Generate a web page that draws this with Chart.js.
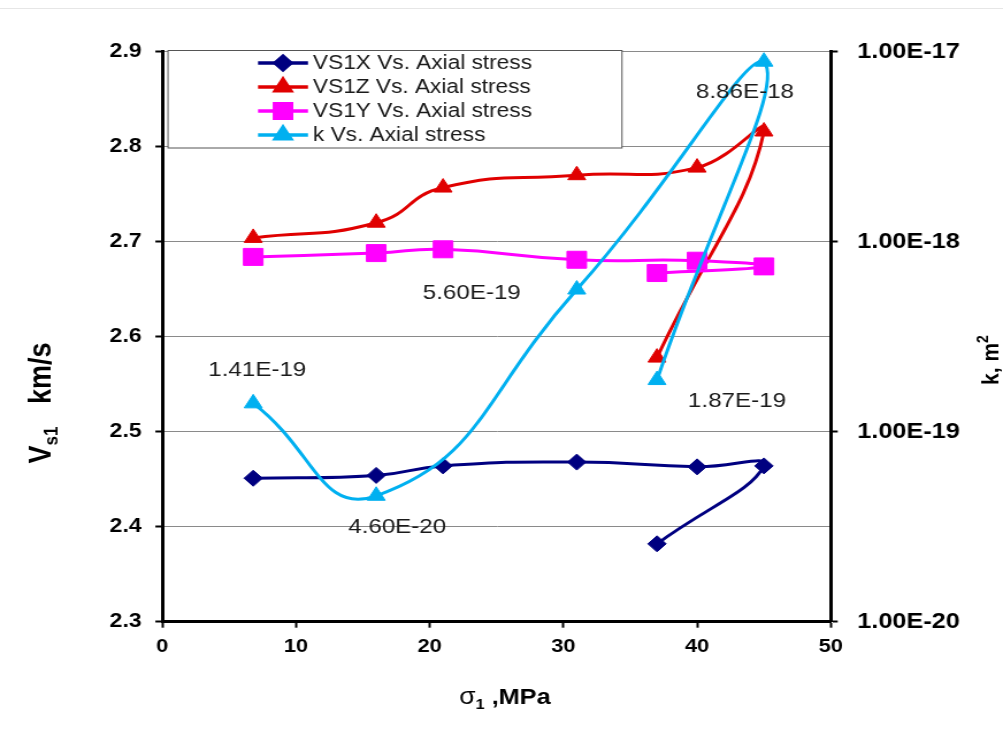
<!DOCTYPE html>
<html>
<head>
<meta charset="utf-8">
<title>Shear-wave velocity and permeability vs. axial stress</title>
<script src="https://cdn.jsdelivr.net/npm/chart.js@4.4.1/dist/chart.umd.min.js"></script>
<style>
  html, body { margin: 0; padding: 0; background: #fff; overflow: hidden; }
  /* the plot is drawn 872 px wide and widened to the 1003 px page */
  #wrap { width: 872px; height: 755px; transform: scaleX(1.150229); transform-origin: 0 0; }
  canvas { display: block; }
</style>
</head>
<body>
<div id="wrap"><canvas id="chart" width="872" height="755"></canvas></div>
<script>
// ---- data -------------------------------------------------------------
const stress = [6.8, 16, 21, 31, 40, 45, 37];            // sigma1, MPa (loading then unloading)
const vs1x   = [2.451, 2.454, 2.464, 2.468, 2.463, 2.464, 2.382];
const vs1z   = [2.704, 2.720, 2.757, 2.770, 2.778, 2.816, 2.578];
const vs1y   = [2.684, 2.688, 2.692, 2.681, 2.680, 2.674, 2.667];
const kStress = [6.8, 16, 31, 45, 37];
const kValues = [1.41e-19, 4.60e-20, 5.60e-19, 8.86e-18, 1.87e-19]; // m^2

const seriesNames = ['VS1X Vs. Axial stress', 'VS1Z Vs. Axial stress',
                     'VS1Y Vs. Axial stress', 'k Vs. Axial stress'];

const xTicks = [0, 10, 20, 30, 40, 50];
const xTickLabels = ['0', '10', '20', '30', '40', '50'];
const vTicks = [2.3, 2.4, 2.5, 2.6, 2.7, 2.8, 2.9];
const vTickLabels = ['2.3', '2.4', '2.5', '2.6', '2.7', '2.8', '2.9'];
const kTicks = [1e-20, 1e-19, 1e-18, 1e-17];
const kTickLabels = ['1.00E-20', '1.00E-19', '1.00E-18', '1.00E-17'];

// ---- look -------------------------------------------------------------
const SX = 1003 / 872;                       // horizontal widening of the page
const FONT = '"Liberation Sans", Arial, Helvetica, sans-serif';
const colors = ['#000080', '#e00000', '#ff00ff', '#00b0f0'];
const styles = [
  { pointStyle: 'rectRot',  radius: 8 },
  { pointStyle: 'triangle', radius: 9 },
  { pointStyle: 'rect',     radius: 12 },
  { pointStyle: 'triangle', radius: 9 }
];
// where each k value label sits relative to its point (page px)
const kLabelOffsets = [[4, -33], [21, 31], [-105, 4], [-19, 31], [80, 21]];

const pairs = (xs, ys) => xs.map((x, i) => ({ x: x, y: ys[i] }));

function series(i, data, axis, order) {
  return {
    label: seriesNames[i],
    data: data,
    yAxisID: axis,
    order: order,
    showLine: true,
    tension: 0.5,
    borderColor: colors[i],
    backgroundColor: colors[i],
    borderWidth: 3,
    pointStyle: styles[i].pointStyle,
    pointRadius: styles[i].radius,
    pointHoverRadius: styles[i].radius,
    pointBackgroundColor: colors[i],
    pointBorderColor: colors[i],
    pointBorderWidth: 1
  };
}

// ---- legend box, value labels and axis titles ---------------------------
const decorations = {
  id: 'decorations',
  beforeDraw(chart) {
    const ctx = chart.ctx;
    ctx.save();
    ctx.strokeStyle = '#e6e6e6';
    ctx.lineWidth = 1;
    ctx.beginPath();
    ctx.moveTo(0, 8.5);
    ctx.lineTo(chart.width, 8.5);
    ctx.stroke();
    ctx.restore();
  },
  afterDatasetsDraw(chart) {
    const ctx = chart.ctx;
    ctx.save();
    // k value labels
    const meta = chart.getDatasetMeta(3);
    ctx.font = '21px ' + FONT;
    ctx.fillStyle = '#1a1a1a';
    ctx.textAlign = 'center';
    ctx.textBaseline = 'middle';
    meta.data.forEach((pt, i) => {
      const txt = kValues[i].toExponential(2).toUpperCase();
      const off = kLabelOffsets[i];
      ctx.fillText(txt, pt.x + off[0] / SX, pt.y + off[1]);
    });
    ctx.restore();
  },
  afterDraw(chart) {
    const ctx = chart.ctx;
    ctx.save();
    // legend
    const bx = 168 / SX, by = 50.5, bw = (622 - 168) / SX, bh = 97.5;
    ctx.fillStyle = '#ffffff';
    ctx.fillRect(bx, by, bw, bh);
    ctx.strokeStyle = '#555555';
    ctx.lineWidth = 1;
    ctx.strokeRect(bx, by, bw, bh);
    const lx0 = 258 / SX, lx1 = 308 / SX, tx = 313 / SX;
    chart.data.datasets.forEach((ds, i) => {
      const y = 63 + i * 24;
      ctx.strokeStyle = colors[i];
      ctx.lineWidth = 3.5;
      ctx.beginPath();
      ctx.moveTo(lx0, y);
      ctx.lineTo(lx1, y);
      ctx.stroke();
      ctx.fillStyle = colors[i];
      ctx.strokeStyle = colors[i];
      Chart.helpers.drawPoint(ctx, {
        pointStyle: styles[i].pointStyle,
        radius: styles[i].radius * 0.85,
        rotation: 0,
        borderWidth: 1
      }, (lx0 + lx1) / 2, y);
      ctx.fillStyle = '#1a1a1a';
      ctx.font = '19.7px ' + FONT;
      ctx.textAlign = 'left';
      ctx.textBaseline = 'middle';
      ctx.fillText(ds.label, tx, y + 1);
    });

    // axis titles
    ctx.fillStyle = '#000';
    ctx.textBaseline = 'alphabetic';
    const big = 'bold 21px ' + FONT;
    const small = 'bold 14px ' + FONT;

    // left: V s1  km/s
    ctx.save();
    ctx.translate(40 / SX + 9, 403);
    ctx.rotate(-Math.PI / 2);
    const vBig = 'bold 27px ' + FONT, vSmall = 'bold 17px ' + FONT;
    ctx.font = vBig;   const wV = ctx.measureText('V').width;
    ctx.font = vSmall; const wS = ctx.measureText('s1').width;
    ctx.font = vBig;   const wK = ctx.measureText('   km/s').width;
    let x0 = -(wV + wS + wK) / 2;
    ctx.textAlign = 'left';
    ctx.font = vBig;   ctx.fillText('V', x0, 0);
    ctx.font = vSmall; ctx.fillText('s1', x0 + wV, 6);
    ctx.font = vBig;   ctx.fillText('   km/s', x0 + wV + wS, 0);
    ctx.restore();

    // right: k, m2
    ctx.save();
    ctx.translate(990 / SX + 7, 360);
    ctx.rotate(-Math.PI / 2);
    ctx.font = big;  const wk = ctx.measureText('k, m').width;
    ctx.font = small; const w2 = ctx.measureText('2').width;
    x0 = -(wk + w2) / 2;
    ctx.textAlign = 'left';
    ctx.font = big;   ctx.fillText('k, m', x0, 0);
    ctx.font = small; ctx.fillText('2', x0 + wk, -9);
    ctx.restore();

    // bottom: sigma1 ,MPa
    ctx.save();
    ctx.translate(505 / SX, 704);
    const bBig = 'bold 22px ' + FONT;
    ctx.font = '23px ' + FONT;  const ws = ctx.measureText('\u03c3').width;
    ctx.font = small;            const w1 = ctx.measureText('1').width;
    ctx.font = bBig;             const wm = ctx.measureText(' ,MPa').width;
    x0 = -(ws + w1 + wm) / 2;
    ctx.textAlign = 'left';
    ctx.font = '23px ' + FONT;  ctx.fillText('\u03c3', x0, 0);
    ctx.font = small;            ctx.fillText('1', x0 + ws, 5);
    ctx.font = bBig;             ctx.fillText(' ,MPa', x0 + ws + w1, 0);
    ctx.restore();

    ctx.restore();
  }
};

new Chart(document.getElementById('chart'), {
  type: 'scatter',
  data: {
    datasets: [
      series(0, pairs(stress, vs1x), 'y', 3),
      series(1, pairs(stress, vs1z), 'y', 2),
      series(2, pairs(stress, vs1y), 'y', 1),
      series(3, pairs(kStress, kValues), 'yk', 0)
    ]
  },
  options: {
    responsive: false,
    animation: false,
    layout: { padding: { top: 51.7, left: 0, right: 0, bottom: 0 } },
    plugins: { legend: { display: false }, tooltip: { enabled: false } },
    elements: { line: { capBezierPoints: true } },
    scales: {
      x: {
        type: 'linear', min: 0, max: 50,
        afterBuildTicks: s => { s.ticks = xTicks.map(v => ({ value: v })); },
        afterFit: s => { s.height = 755 - 621.7; },
        ticks: { font: { family: FONT, size: 19, weight: 'bold' }, color: '#000', padding: 8,
                 maxRotation: 0, callback: (v, i) => xTickLabels[i] },
        grid: { drawOnChartArea: false, tickLength: 6, tickColor: '#000', tickWidth: 2 },
        border: { color: '#000', width: 3 }
      },
      y: {
        type: 'linear', position: 'left', min: 2.3, max: 2.9,
        afterBuildTicks: s => { s.ticks = vTicks.map(v => ({ value: v })); },
        afterFit: s => { s.width = 162.3 / SX; },
        ticks: { font: { family: FONT, size: 20, weight: 'bold' }, color: '#000', padding: 12,
                 callback: (v, i) => vTickLabels[i] },
        grid: { color: '#8a8a8a', lineWidth: 1, tickLength: 6, tickColor: '#000', tickWidth: 2 },
        border: { color: '#000', width: 3 }
      },
      yk: {
        type: 'logarithmic', position: 'right', min: 1e-20, max: 1e-17,
        afterBuildTicks: s => { s.ticks = kTicks.map(v => ({ value: v })); },
        afterFit: s => { s.width = 872 - 830.8 / SX; },
        ticks: { font: { family: FONT, size: 22, weight: 'bold' }, color: '#000', padding: 17,
                 callback: (v, i) => kTickLabels[i] },
        grid: { drawOnChartArea: false, tickLength: 6, tickColor: '#000', tickWidth: 2 },
        border: { color: '#000', width: 3 }
      }
    }
  },
  plugins: [decorations]
});
</script>
</body>
</html>
